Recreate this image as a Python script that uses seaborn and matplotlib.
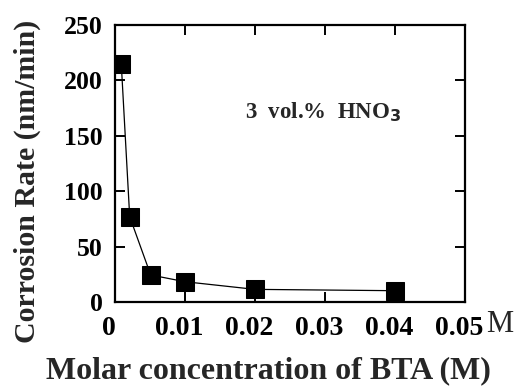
import matplotlib
matplotlib.use("Agg")
import matplotlib.pyplot as plt
import matplotlib.transforms as mtransforms
import seaborn as sns
import pandas as pd

conc = [0.0009, 0.0021, 0.0051, 0.010, 0.020, 0.040]
rate = [214.5, 77, 24.4, 18.3, 11.4, 10.2]
xticks = [0, 0.01, 0.02, 0.03, 0.04, 0.05]
xticklabels = ["0", "0.01", "0.02", "0.03", "0.04", "0.05"]
yticks = [0, 50, 100, 150, 200, 250]

sns.set_theme(style="ticks")
plt.rcParams['font.family'] = ['Liberation Serif', 'DejaVu Serif']
plt.rcParams['font.weight'] = 'bold'

df = pd.DataFrame({"conc": conc, "rate": rate})
fig = plt.figure(figsize=(5.16, 3.89), dpi=100)
ax = fig.add_axes([115/516, 1-302/389, 350/516, 277/389])
sns.lineplot(data=df, x="conc", y="rate", ax=ax, color="black", linewidth=0.9,
             marker="s", markersize=12.5, markeredgecolor="black", markerfacecolor="black")
ax.set_xlim(0, 0.05)
ax.set_ylim(0, 250)
ax.set_xticks(xticks)
ax.set_xticklabels(xticklabels)
ax.set_yticks(yticks)
for s in ax.spines.values():
    s.set_visible(True)
    s.set_linewidth(1.6)
    s.set_color("black")
ax.tick_params(direction="in", length=7, width=1.4, top=True, right=True, colors="black")
ax.tick_params(axis="x", pad=10, labelsize=20)
ax.tick_params(axis="y", pad=9, labelsize=18.5)
for lab in ax.get_xticklabels() + ax.get_yticklabels():
    lab.set_fontweight("bold")
offset = mtransforms.ScaledTranslation(-6/100, 0, fig.dpi_scale_trans)
for lab in ax.get_xticklabels():
    lab.set_transform(lab.get_transform() + offset)
ax.set_xlabel("Molar concentration of BTA (M)", fontsize=23, fontweight="bold")
ax.xaxis.set_label_coords(0.4386, -0.195)
ax.set_ylabel("Corrosion Rate (nm/min)", fontsize=21.5, fontweight="bold")
ax.yaxis.set_label_coords(-0.251, 0.435)
ax.yaxis.label.set_va("center")
ax.text(1.1, -0.083, "M", transform=ax.transAxes, fontsize=22, fontweight="normal",
        ha="center", va="center")
ax.text(0.596, 0.685, "3  vol.%  HNO$_\\mathbf{3}$", transform=ax.transAxes, fontsize=16.5,
        fontweight="bold", ha="center", va="center")
fig.savefig("out.png", dpi=100)
